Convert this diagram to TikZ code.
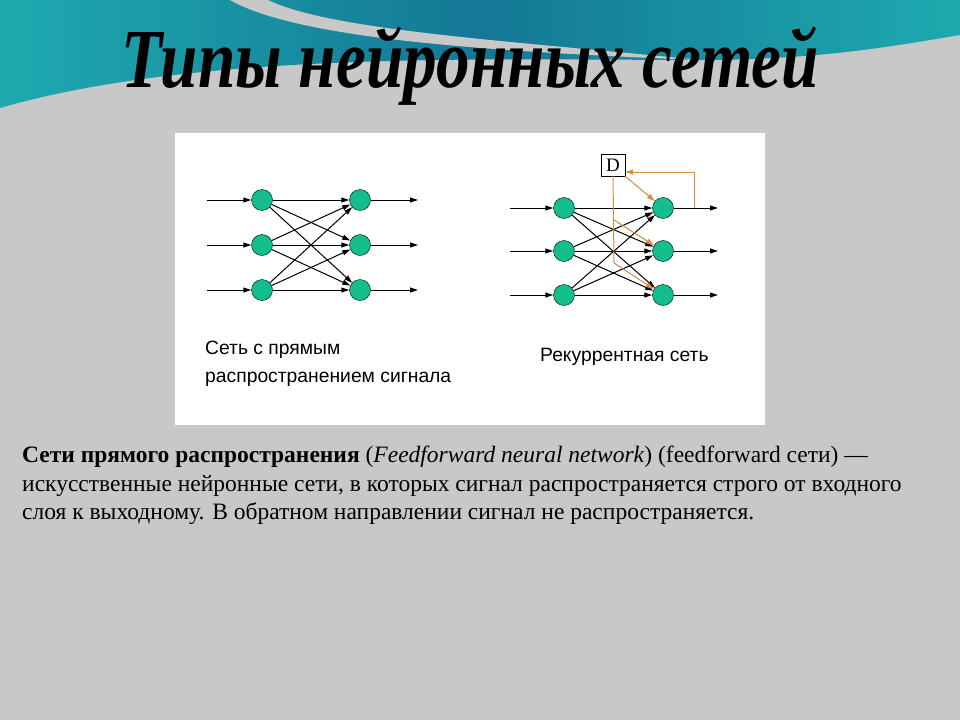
\documentclass[tikz,border=0pt]{standalone}
\usepackage{fontspec}
\setmainfont{Liberation Serif}
\newfontfamily\capfont{Liberation Sans}
\usetikzlibrary{arrows.meta}
\definecolor{teal1}{RGB}{20,120,150}
\definecolor{teal2}{RGB}{30,170,175}
\definecolor{nodeg}{RGB}{20,190,140}
\definecolor{orng}{RGB}{215,140,70}
\definecolor{bg}{RGB}{200,200,200}
\begin{document}
\begin{tikzpicture}[x=1pt,y=-1pt,
  neu/.style={circle,draw=black,fill=nodeg,minimum size=21pt,inner sep=0pt},
  ar/.style={-{Triangle[length=8pt,width=5pt]},line width=1pt},
  oar/.style={-{Triangle[length=8pt,width=5pt]},line width=1pt,draw=orng,fill=orng},
  captxt/.style={font=\capfont\fontsize{19.3}{28}\selectfont,align=left,anchor=north west,inner sep=0pt}]
\useasboundingbox (0,0) rectangle (960,720);
\fill[bg] (0,0) rectangle (960,720);
% top teal waves
\shade[left color=teal2,right color=teal2,middle color=teal1] (0,0) -- (960,0) -- (960,35)
  .. controls (900,45) and (820,60) .. (700,60) .. controls (500,60) and (200,50) .. (0,108) -- cycle;
\fill[bg] (230,0) .. controls (300,40) and (500,52) .. (700,60) .. controls (500,40) and (330,30) .. (268,0) -- cycle;
\node[font=\bfseries\itshape\fontsize{84}{90}\selectfont,xscale=0.8] (title) at (470,66) {Типы нейронных сетей};
% panel
\fill[white] (175,133) rectangle (765,425);
% feedforward
\foreach \i/\y in {1/200,2/245,3/290}{
  \node[neu] (a\i) at (262,\y) {};
  \node[neu] (b\i) at (360,\y) {};
  \coordinate (ai\i) at (207,\y);
  \coordinate (bo\i) at (418,\y);
  \draw[ar] (ai\i) -- (a\i);
  \draw[ar] (b\i) -- (bo\i);
}
\foreach \i in {1,2,3}{\foreach \j in {1,2,3}{\draw[ar] (a\i) -- (b\j);}}
\node[captxt] (c1) at (205,341) {Сеть с прямым\\распространением сигнала};
% recurrent
\node[draw=black,fill=white,inner sep=2pt,minimum width=24pt,minimum height=22pt,font=\fontsize{19}{19}\selectfont] (D) at (613,165) {D};
\foreach \i/\y in {1/208,2/251,3/295}{
  \node[neu] (p\i) at (564,\y) {};
  \node[neu] (q\i) at (663,\y) {};
  \coordinate (pi\i) at (510,\y);
  \coordinate (qo\i) at (718,\y);
  \draw[ar] (pi\i) -- (p\i);
  \draw[ar] (q\i) -- (qo\i);
}
\foreach \i in {1,2,3}{\foreach \j in {1,2,3}{\draw[ar] (p\i) -- (q\j);}}
\coordinate (f1) at (694,208);
\coordinate (f2) at (694,172);
\coordinate (v1) at (614,220);
\coordinate (v2) at (614,263);
\draw[orng,line width=1pt] (f1) -- (f2);
\draw[oar] (f2) -- (D.east|-f2);
\draw[oar] (D.south east) -- (q1);
\draw[orng,line width=1pt] (D.south) -- (v2);
\draw[oar] (v1) -- (q2);
\draw[oar] (v2) -- (q3);
\node[captxt,anchor=west] (c2) at (540,357) {Рекуррентная сеть};
% text
\node[font=\fontsize{23.5}{28.5}\selectfont,align=left,anchor=north west,inner sep=0pt] (txt) at (22,446)
{\textbf{Сети прямого распространения} (\textit{Feedforward neural network}) (feedforward сети) —\\искусственные нейронные сети, в которых сигнал распространяется строго от входного\\слоя к выходному. В обратном направлении сигнал не распространяется.};
\end{tikzpicture}
\end{document}
